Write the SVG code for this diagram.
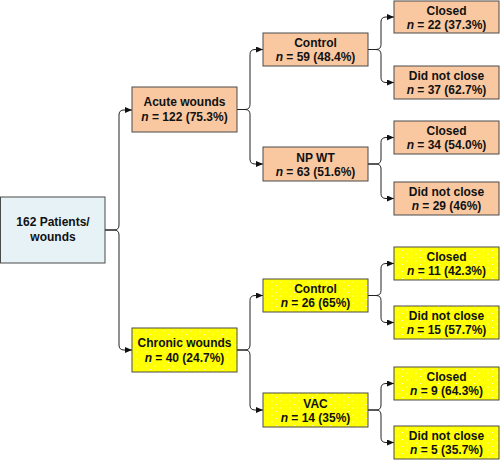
<svg xmlns="http://www.w3.org/2000/svg" width="500" height="460" viewBox="0 0 500 460">
<style>
.box{stroke:#4a4a4a;stroke-width:1}
.peach{fill:#F9C8A0}
.yel{fill:url(#dots)}
.root{fill:#E6F2F6}
text{font-family:"Liberation Sans",Arial,sans-serif;font-weight:bold;font-size:12px;fill:#111;text-anchor:middle}
.it{font-style:italic}
.con{fill:none;stroke:#222;stroke-width:1;marker-end:url(#ah)}
</style>
<defs>
<marker id="ah" markerUnits="userSpaceOnUse" markerWidth="7" markerHeight="6" refX="7" refY="3" orient="auto">
<path d="M0,0 L7,3 L0,6 z" fill="#111"/>
</marker>
<pattern id="dots" patternUnits="userSpaceOnUse" width="9" height="7">
<rect width="9" height="7" fill="#FFFF00"/>
<circle cx="2" cy="2" r="0.55" fill="#fff"/>
<circle cx="6.5" cy="5.5" r="0.55" fill="#fff"/>
</pattern>
</defs>
<g id="connectors">
<path class="con" d="M105 230 H114 Q119 230 119 225 V115 Q119 110 124 110 H132"/>
<path class="con" d="M105 230 H114 Q119 230 119 235 V345 Q119 350 124 350 H132"/>
<path class="con" d="M237 109.5 H245 Q250 109.5 250 104.5 V54.5 Q250 49.5 255 49.5 H263"/>
<path class="con" d="M237 109.5 H245 Q250 109.5 250 114.5 V159 Q250 164 255 164 H263"/>
<path class="con" d="M237 350 H245 Q250 350 250 345 V300.5 Q250 295.5 255 295.5 H263"/>
<path class="con" d="M237 350 H245 Q250 350 250 355 V405 Q250 410 255 410 H263"/>
<path class="con" d="M368 49.5 H376 Q381 49.5 381 44.5 V22 Q381 17 386 17 H394"/>
<path class="con" d="M368 49.5 H376 Q381 49.5 381 54.5 V77.5 Q381 82.5 386 82.5 H394"/>
<path class="con" d="M368 164 H376 Q381 164 381 159 V142.5 Q381 137.5 386 137.5 H394"/>
<path class="con" d="M368 164 H376 Q381 164 381 169 V193.5 Q381 198.5 386 198.5 H394"/>
<path class="con" d="M368 295.5 H376 Q381 295.5 381 290.5 V268.5 Q381 263.5 386 263.5 H394"/>
<path class="con" d="M368 295.5 H376 Q381 295.5 381 300.5 V317.5 Q381 322.5 386 322.5 H394"/>
<path class="con" d="M368 410 H376 Q381 410 381 405 V388.5 Q381 383.5 386 383.5 H394"/>
<path class="con" d="M368 410 H376 Q381 410 381 415 V437.5 Q381 442.5 386 442.5 H394"/>
</g>
<g id="root">
<rect class="box root" x="0.5" y="197" width="104.5" height="66"/>
<text x="53" y="226">162 Patients/</text>
<text x="53" y="241">wounds</text>
</g>
<g id="acute">
<rect class="box peach" x="132" y="87" width="105" height="45"/>
<text x="184.5" y="106">Acute wounds</text>
<text x="184.5" y="121"><tspan class="it">n</tspan> = 122 (75.3%)</text>
</g>
<g id="chronic">
<rect class="box yel" x="132" y="328" width="105" height="44"/>
<text x="184.5" y="346.5">Chronic wounds</text>
<text x="184.5" y="361.5"><tspan class="it">n</tspan> = 40 (24.7%)</text>
</g>
<g id="acute-control">
<rect class="box peach" x="263" y="33" width="105" height="33"/>
<text x="315.5" y="47">Control</text>
<text x="315.5" y="61"><tspan class="it">n</tspan> = 59 (48.4%)</text>
</g>
<g id="acute-npwt">
<rect class="box peach" x="263" y="147" width="105" height="34"/>
<text x="315.5" y="161.5">NP WT</text>
<text x="315.5" y="175.5"><tspan class="it">n</tspan> = 63 (51.6%)</text>
</g>
<g id="chronic-control">
<rect class="box yel" x="263" y="279" width="105" height="33"/>
<text x="315.5" y="293">Control</text>
<text x="315.5" y="307"><tspan class="it">n</tspan> = 26 (65%)</text>
</g>
<g id="chronic-vac">
<rect class="box yel" x="263" y="393" width="105" height="34"/>
<text x="315.5" y="407.5">VAC</text>
<text x="315.5" y="421.5"><tspan class="it">n</tspan> = 14 (35%)</text>
</g>
<g id="ac-closed">
<rect class="box peach" x="394" y="1" width="105" height="32"/>
<text x="446.5" y="14.5">Closed</text>
<text x="446.5" y="28.5"><tspan class="it">n</tspan> = 22 (37.3%)</text>
</g>
<g id="ac-notclosed">
<rect class="box peach" x="394" y="66" width="105" height="33"/>
<text x="446.5" y="80">Did not close</text>
<text x="446.5" y="94"><tspan class="it">n</tspan> = 37 (62.7%)</text>
</g>
<g id="np-closed">
<rect class="box peach" x="394" y="121" width="105" height="33"/>
<text x="446.5" y="135">Closed</text>
<text x="446.5" y="149"><tspan class="it">n</tspan> = 34 (54.0%)</text>
</g>
<g id="np-notclosed">
<rect class="box peach" x="394" y="182" width="105" height="33"/>
<text x="446.5" y="196">Did not close</text>
<text x="446.5" y="210"><tspan class="it">n</tspan> = 29 (46%)</text>
</g>
<g id="cc-closed">
<rect class="box yel" x="394" y="247" width="105" height="33"/>
<text x="446.5" y="261">Closed</text>
<text x="446.5" y="275"><tspan class="it">n</tspan> = 11 (42.3%)</text>
</g>
<g id="cc-notclosed">
<rect class="box yel" x="394" y="306" width="105" height="33"/>
<text x="446.5" y="320">Did not close</text>
<text x="446.5" y="334"><tspan class="it">n</tspan> = 15 (57.7%)</text>
</g>
<g id="vac-closed">
<rect class="box yel" x="394" y="367" width="105" height="33"/>
<text x="446.5" y="381">Closed</text>
<text x="446.5" y="395"><tspan class="it">n</tspan> = 9 (64.3%)</text>
</g>
<g id="vac-notclosed">
<rect class="box yel" x="394" y="426" width="105" height="33"/>
<text x="446.5" y="440">Did not close</text>
<text x="446.5" y="454"><tspan class="it">n</tspan> = 5 (35.7%)</text>
</g>
</svg>
